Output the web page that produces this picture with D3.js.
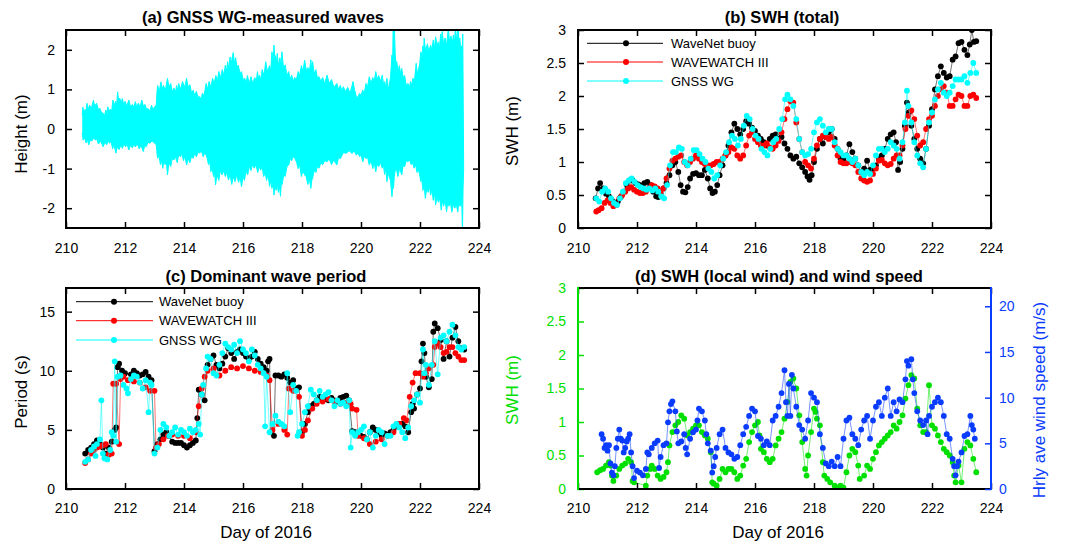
<!DOCTYPE html>
<html><head><meta charset="utf-8">
<script src="https://cdn.jsdelivr.net/npm/d3@7"></script>
<style>body{margin:0;background:#fff} text{font-family:"Liberation Sans",Arial,Helvetica,sans-serif}</style>
</head><body><svg id="chart" width="1079" height="543"></svg>
<script>
// ---------- data ----------
const xTicks = [210,212,214,216,218,220,222,224];
const waveTicks = [-2,-1,0,1,2];
const swhTicks = [0,0.5,1,1.5,2,2.5,3];
const periodTicks = [0,5,10,15];
const windTicks = [0,5,10,15,20];
const seriesNames = ["WaveNet buoy","WAVEWATCH III","GNSS WG"];

// (a) envelope of the GNSS WG wave record [day, height]
const waveUpper = [[210.55,0.35],[210.57,0.55],[210.61,0.4],[210.65,0.5],[210.68,0.42],[210.71,0.65],[210.75,0.5],[210.8,0.6],[210.86,0.52],[210.93,0.73],[210.97,0.58],[211.0,0.62],[211.04,0.65],[211.09,0.5],[211.15,0.52],[211.2,0.42],[211.26,0.4],[211.3,0.32],[211.35,0.48],[211.39,0.38],[211.42,0.56],[211.46,0.44],[211.5,0.5],[211.55,0.45],[211.59,0.73],[211.63,0.58],[211.68,0.7],[211.72,0.62],[211.75,0.94],[211.79,0.68],[211.82,0.78],[211.87,0.66],[211.91,0.77],[211.96,0.6],[212.0,0.7],[212.06,0.58],[212.13,0.73],[212.19,0.56],[212.25,0.62],[212.3,0.55],[212.35,0.69],[212.4,0.55],[212.45,0.65],[212.51,0.56],[212.57,0.73],[212.62,0.58],[212.68,0.62],[212.73,0.5],[212.78,0.52],[212.84,0.45],[212.9,0.6],[212.95,0.48],[213.0,0.56],[213.06,0.6],[213.09,1.0],[213.11,1.1],[213.16,0.95],[213.22,1.19],[213.26,1.0],[213.3,1.1],[213.37,0.98],[213.44,1.28],[213.49,1.05],[213.55,1.15],[213.6,0.95],[213.66,1.03],[213.7,0.9],[213.75,1.1],[213.79,0.95],[213.82,1.15],[213.88,1.0],[213.95,1.2],[214.02,1.05],[214.09,1.28],[214.14,1.05],[214.2,1.12],[214.26,0.9],[214.31,0.98],[214.36,0.85],[214.42,0.95],[214.48,0.8],[214.53,0.82],[214.58,0.75],[214.62,0.9],[214.68,0.85],[214.75,1.15],[214.8,1.0],[214.85,1.2],[214.91,1.05],[214.97,1.28],[215.02,1.15],[215.08,1.35],[215.13,1.2],[215.18,1.45],[215.24,1.3],[215.3,1.5],[215.35,1.35],[215.4,1.61],[215.44,1.45],[215.48,1.7],[215.52,1.5],[215.56,1.82],[215.59,1.6],[215.62,1.75],[215.67,1.93],[215.71,1.65],[215.75,1.8],[215.8,1.55],[215.84,1.61],[215.9,1.4],[215.95,1.45],[216.0,1.25],[216.06,1.28],[216.1,1.15],[216.15,1.35],[216.21,1.15],[216.27,1.32],[216.33,1.15],[216.4,1.3],[216.45,1.2],[216.49,1.45],[216.52,1.25],[216.55,1.36],[216.6,1.25],[216.65,1.5],[216.71,1.35],[216.77,1.7],[216.83,1.45],[216.9,1.6],[216.94,1.45],[216.98,1.95],[217.02,1.7],[217.05,2.12],[217.08,1.75],[217.1,1.85],[217.13,1.65],[217.16,1.91],[217.2,1.6],[217.25,1.8],[217.28,1.6],[217.32,1.95],[217.37,1.55],[217.43,1.62],[217.49,1.35],[217.55,1.45],[217.6,1.25],[217.65,1.36],[217.7,1.2],[217.75,1.3],[217.81,1.25],[217.87,1.45],[217.92,1.35],[217.98,1.6],[218.03,1.45],[218.09,1.74],[218.14,1.5],[218.2,1.55],[218.25,1.45],[218.3,1.75],[218.33,1.5],[218.36,1.7],[218.41,1.4],[218.47,1.5],[218.52,1.3],[218.58,1.32],[218.64,1.2],[218.7,1.3],[218.77,1.15],[218.85,1.36],[218.92,1.15],[219.0,1.25],[219.08,1.05],[219.18,1.15],[219.24,1.0],[219.3,1.1],[219.35,0.95],[219.4,1.07],[219.47,0.95],[219.55,1.05],[219.63,0.9],[219.73,1.2],[219.78,1.0],[219.84,0.82],[219.9,0.8],[219.95,0.9],[220.0,0.85],[220.06,0.98],[220.11,0.9],[220.17,1.15],[220.22,1.05],[220.28,1.32],[220.34,1.15],[220.4,1.3],[220.45,1.2],[220.5,1.45],[220.55,1.25],[220.6,1.35],[220.66,1.2],[220.72,1.36],[220.76,1.15],[220.8,1.2],[220.84,1.05],[220.88,1.28],[220.92,1.0],[220.95,1.1],[221.0,1.3],[221.05,1.87],[221.07,1.6],[221.09,2.6],[221.13,2.6],[221.16,1.9],[221.19,1.6],[221.21,1.7],[221.26,1.45],[221.3,1.6],[221.34,1.4],[221.38,1.53],[221.43,1.3],[221.48,1.35],[221.53,1.1],[221.59,1.15],[221.64,1.05],[221.68,1.2],[221.72,1.1],[221.76,1.28],[221.81,1.2],[221.87,1.66],[221.91,1.4],[221.95,1.5],[221.99,1.65],[222.03,1.95],[222.07,1.8],[222.1,2.1],[222.12,1.9],[222.14,2.29],[222.19,1.95],[222.25,2.15],[222.3,1.95],[222.36,2.12],[222.4,2.0],[222.45,2.25],[222.49,2.05],[222.53,2.33],[222.58,2.1],[222.62,2.2],[222.66,2.05],[222.7,2.4],[222.73,2.2],[222.75,2.46],[222.8,2.15],[222.85,2.3],[222.9,2.1],[222.96,2.55],[223.0,2.2],[223.05,2.35],[223.09,2.15],[223.13,2.37],[223.17,2.2],[223.2,2.55],[223.24,2.25],[223.29,2.55],[223.32,2.2],[223.35,2.3],[223.38,2.0],[223.4,2.1],[223.43,1.9],[223.45,2.4]];
const waveLower = [[210.55,-0.1],[210.58,-0.28],[210.62,-0.2],[210.68,-0.35],[210.72,-0.25],[210.77,-0.4],[210.82,-0.28],[210.88,-0.3],[210.94,-0.22],[210.99,-0.28],[211.04,-0.25],[211.1,-0.38],[211.17,-0.3],[211.26,-0.45],[211.32,-0.33],[211.38,-0.4],[211.43,-0.3],[211.48,-0.36],[211.53,-0.32],[211.58,-0.5],[211.63,-0.4],[211.69,-0.61],[211.74,-0.45],[211.8,-0.52],[211.86,-0.4],[211.91,-0.49],[211.96,-0.38],[212.02,-0.45],[212.07,-0.38],[212.13,-0.53],[212.19,-0.4],[212.25,-0.48],[212.3,-0.38],[212.35,-0.45],[212.42,-0.38],[212.48,-0.5],[212.55,-0.42],[212.62,-0.57],[212.67,-0.42],[212.72,-0.45],[212.78,-0.33],[212.84,-0.36],[212.92,-0.3],[213.0,-0.36],[213.06,-0.4],[213.09,-0.65],[213.11,-0.74],[213.15,-0.65],[213.2,-0.9],[213.24,-0.78],[213.28,-0.99],[213.32,-0.8],[213.36,-0.9],[213.4,-0.8],[213.44,-1.16],[213.49,-0.85],[213.55,-0.95],[213.6,-0.75],[213.66,-0.78],[213.71,-0.7],[213.77,-0.85],[213.82,-0.65],[213.88,-0.7],[213.93,-0.62],[213.98,-0.8],[214.03,-0.7],[214.09,-0.91],[214.14,-0.75],[214.2,-0.85],[214.25,-0.7],[214.31,-0.74],[214.36,-0.62],[214.42,-0.7],[214.48,-0.58],[214.53,-0.61],[214.59,-0.55],[214.65,-0.7],[214.7,-0.6],[214.75,-0.66],[214.79,-0.75],[214.83,-0.9],[214.87,-0.8],[214.91,-1.08],[214.95,-0.95],[215.0,-1.2],[215.03,-1.05],[215.07,-1.41],[215.12,-1.15],[215.18,-1.3],[215.23,-1.05],[215.29,-1.16],[215.34,-1.05],[215.4,-1.2],[215.45,-1.1],[215.51,-1.29],[215.56,-1.15],[215.62,-1.4],[215.67,-1.2],[215.73,-1.33],[215.79,-1.15],[215.85,-1.35],[215.9,-1.2],[215.95,-1.46],[216.0,-1.2],[216.05,-1.3],[216.1,-1.05],[216.16,-1.16],[216.21,-0.95],[216.27,-1.05],[216.32,-0.9],[216.38,-0.99],[216.44,-0.9],[216.5,-1.1],[216.55,-0.95],[216.6,-1.04],[216.65,-0.95],[216.7,-1.2],[216.75,-1.1],[216.8,-1.3],[216.85,-1.15],[216.9,-1.45],[216.94,-1.3],[216.98,-1.5],[217.02,-1.35],[217.05,-1.67],[217.09,-1.4],[217.12,-1.55],[217.16,-1.4],[217.2,-1.6],[217.24,-1.45],[217.27,-1.7],[217.3,-1.35],[217.33,-1.4],[217.38,-1.15],[217.43,-1.2],[217.49,-0.95],[217.55,-0.91],[217.6,-0.75],[217.65,-0.8],[217.7,-0.7],[217.76,-0.74],[217.82,-0.85],[217.87,-1.0],[217.92,-0.9],[217.98,-1.2],[218.03,-1.05],[218.09,-1.16],[218.14,-1.2],[218.2,-1.4],[218.25,-1.25],[218.3,-1.5],[218.33,-1.3],[218.36,-1.25],[218.41,-1.05],[218.47,-1.1],[218.52,-0.95],[218.58,-0.99],[218.64,-0.85],[218.7,-0.9],[218.77,-0.8],[218.85,-0.83],[218.92,-0.75],[219.0,-0.9],[219.08,-0.78],[219.18,-0.91],[219.24,-0.72],[219.3,-0.75],[219.4,-0.6],[219.5,-0.61],[219.6,-0.55],[219.7,-0.62],[219.77,-0.55],[219.84,-0.66],[219.9,-0.6],[219.95,-0.7],[220.0,-0.65],[220.06,-0.83],[220.11,-0.68],[220.17,-0.75],[220.22,-0.7],[220.28,-0.91],[220.34,-0.8],[220.4,-1.0],[220.45,-0.85],[220.5,-1.08],[220.55,-0.88],[220.6,-0.95],[220.66,-0.85],[220.72,-0.99],[220.76,-0.9],[220.8,-1.15],[220.84,-1.0],[220.88,-1.33],[220.92,-1.1],[220.95,-1.2],[221.0,-1.3],[221.05,-1.71],[221.08,-1.4],[221.1,-1.5],[221.13,-1.2],[221.15,-1.08],[221.2,-1.0],[221.25,-1.2],[221.31,-1.0],[221.38,-1.16],[221.43,-0.92],[221.48,-0.95],[221.53,-0.8],[221.59,-0.83],[221.65,-0.78],[221.7,-0.9],[221.75,-0.85],[221.8,-0.99],[221.85,-0.9],[221.9,-1.1],[221.96,-1.05],[222.03,-1.33],[222.06,-1.25],[222.1,-1.55],[222.14,-1.4],[222.18,-1.75],[222.23,-1.5],[222.28,-1.6],[222.32,-1.45],[222.36,-1.67],[222.4,-1.55],[222.45,-1.8],[222.49,-1.6],[222.53,-1.92],[222.58,-1.7],[222.62,-1.85],[222.67,-1.75],[222.72,-2.05],[222.76,-1.8],[222.8,-1.95],[222.85,-1.8],[222.9,-2.09],[222.94,-1.85],[222.98,-1.95],[223.03,-1.85],[223.08,-2.1],[223.13,-1.9],[223.18,-2.0],[223.23,-1.9],[223.28,-2.1],[223.32,-1.85],[223.36,-1.95],[223.4,-1.8],[223.42,-2.0],[223.44,-2.6],[223.46,-1.5],[223.48,-1.0]];

// (b) SWH total [day, m]
const buoySwh = [[210.6,0.45],[210.68,0.6],[210.75,0.68],[210.85,0.6],[210.95,0.52],[211.05,0.48],[211.15,0.42],[211.25,0.38],[211.35,0.4],[211.45,0.47],[211.55,0.55],[211.65,0.65],[211.75,0.72],[211.85,0.72],[211.95,0.68],[212.05,0.66],[212.15,0.64],[212.25,0.68],[212.35,0.7],[212.45,0.65],[212.55,0.55],[212.65,0.48],[212.72,0.47],[212.8,0.52],[212.9,0.6],[213.0,0.68],[213.1,0.8],[213.2,0.95],[213.3,1.0],[213.4,0.85],[213.48,0.65],[213.56,0.55],[213.64,0.54],[213.72,0.62],[213.8,0.75],[213.9,0.82],[214.0,0.83],[214.1,0.8],[214.2,0.8],[214.3,0.88],[214.4,0.75],[214.48,0.6],[214.56,0.53],[214.64,0.55],[214.72,0.65],[214.8,0.8],[214.9,0.95],[215.0,1.1],[215.1,1.25],[215.2,1.45],[215.3,1.58],[215.4,1.5],[215.5,1.42],[215.6,1.5],[215.7,1.62],[215.8,1.58],[215.9,1.52],[216.0,1.47],[216.1,1.4],[216.2,1.35],[216.3,1.3],[216.4,1.25],[216.5,1.35],[216.6,1.4],[216.7,1.42],[216.8,1.35],[216.9,1.38],[217.0,1.28],[217.1,1.2],[217.2,1.1],[217.3,1.05],[217.4,1.08],[217.5,0.98],[217.6,0.92],[217.7,0.85],[217.78,0.78],[217.85,0.73],[217.92,0.8],[218.0,1.0],[218.1,1.2],[218.2,1.35],[218.3,1.28],[218.4,1.38],[218.5,1.45],[218.6,1.5],[218.7,1.35],[218.8,1.2],[218.9,1.05],[219.0,1.03],[219.1,1.1],[219.2,1.27],[219.3,1.15],[219.4,1.05],[219.5,0.95],[219.6,0.85],[219.7,0.9],[219.8,1.02],[219.9,0.88],[220.0,0.9],[220.1,0.95],[220.2,1.05],[220.3,1.1],[220.4,1.2],[220.5,1.35],[220.6,1.42],[220.7,1.45],[220.78,1.3],[220.85,0.88],[220.92,1.0],[221.0,1.2],[221.08,1.55],[221.15,1.9],[221.22,1.75],[221.3,1.55],[221.4,1.35],[221.5,1.2],[221.6,1.05],[221.7,0.98],[221.8,1.2],[221.9,1.55],[222.0,1.8],[222.1,2.1],[222.2,2.3],[222.3,2.45],[222.4,2.35],[222.5,2.28],[222.6,2.3],[222.7,2.55],[222.8,2.6],[222.9,2.8],[223.0,2.82],[223.1,2.7],[223.2,2.62],[223.28,2.78],[223.35,3.0],[223.42,2.82],[223.5,2.83]];
const ww3Swh = [[210.62,0.25],[210.7,0.27],[210.8,0.3],[210.9,0.38],[211.0,0.42],[211.1,0.38],[211.2,0.33],[211.3,0.35],[211.4,0.45],[211.5,0.5],[211.6,0.55],[211.7,0.6],[211.8,0.62],[211.9,0.58],[212.0,0.55],[212.1,0.53],[212.2,0.53],[212.3,0.55],[212.4,0.6],[212.5,0.65],[212.6,0.63],[212.7,0.6],[212.8,0.55],[212.9,0.6],[213.0,0.75],[213.1,0.9],[213.2,1.02],[213.3,1.05],[213.4,1.08],[213.5,1.1],[213.6,1.0],[213.7,0.95],[213.8,1.0],[213.9,1.05],[214.0,1.1],[214.1,1.05],[214.2,1.0],[214.3,0.97],[214.4,0.95],[214.5,0.95],[214.6,0.97],[214.7,1.0],[214.8,1.0],[214.9,1.05],[215.0,1.1],[215.1,1.15],[215.2,1.22],[215.3,1.2],[215.4,1.1],[215.5,1.05],[215.6,1.1],[215.7,1.25],[215.8,1.4],[215.9,1.45],[216.0,1.35],[216.1,1.3],[216.2,1.25],[216.3,1.25],[216.4,1.28],[216.5,1.22],[216.6,1.2],[216.7,1.25],[216.8,1.32],[216.9,1.45],[217.0,1.65],[217.1,1.8],[217.2,1.92],[217.3,1.9],[217.4,1.6],[217.5,1.35],[217.6,1.15],[217.7,1.0],[217.8,0.95],[217.9,0.9],[218.0,1.05],[218.1,1.25],[218.2,1.35],[218.3,1.4],[218.4,1.38],[218.5,1.35],[218.6,1.38],[218.7,1.25],[218.8,1.1],[218.9,1.0],[219.0,0.98],[219.1,0.98],[219.2,1.0],[219.3,0.98],[219.4,0.95],[219.5,0.85],[219.6,0.75],[219.7,0.72],[219.8,0.7],[219.9,0.72],[220.0,0.82],[220.1,0.9],[220.2,1.02],[220.3,1.03],[220.4,0.98],[220.5,0.95],[220.6,0.97],[220.7,1.05],[220.8,1.1],[220.9,1.1],[221.0,1.25],[221.1,1.5],[221.2,1.7],[221.3,1.78],[221.4,1.65],[221.5,1.4],[221.6,1.25],[221.7,1.3],[221.8,1.5],[221.9,1.65],[222.0,1.7],[222.1,1.85],[222.2,2.0],[222.3,2.1],[222.4,2.15],[222.5,2.05],[222.6,1.85],[222.7,1.85],[222.8,1.95],[222.9,2.02],[223.0,2.0],[223.1,1.85],[223.2,1.85],[223.3,2.0],[223.4,2.02],[223.5,1.97]];
const gnssSwh = [[210.62,0.45],[210.72,0.4],[210.82,0.55],[210.92,0.6],[211.02,0.55],[211.12,0.45],[211.22,0.38],[211.32,0.35],[211.42,0.45],[211.52,0.55],[211.62,0.68],[211.72,0.72],[211.82,0.75],[211.92,0.7],[212.02,0.65],[212.12,0.62],[212.22,0.6],[212.32,0.58],[212.42,0.6],[212.52,0.57],[212.62,0.6],[212.72,0.55],[212.82,0.48],[212.92,0.45],[213.02,0.65],[213.12,0.95],[213.22,1.15],[213.32,1.15],[213.42,1.22],[213.52,1.2],[213.62,1.0],[213.72,0.95],[213.82,1.05],[213.92,1.18],[214.02,1.18],[214.12,1.12],[214.22,1.05],[214.32,1.0],[214.42,0.9],[214.52,0.85],[214.62,0.75],[214.72,0.8],[214.82,0.95],[214.92,1.05],[215.02,1.15],[215.12,1.3],[215.22,1.4],[215.32,1.35],[215.42,1.25],[215.52,1.35],[215.62,1.55],[215.72,1.7],[215.82,1.65],[215.92,1.5],[216.02,1.4],[216.12,1.35],[216.22,1.2],[216.32,1.15],[216.42,1.1],[216.52,1.2],[216.62,1.3],[216.72,1.35],[216.82,1.5],[216.92,1.65],[217.02,1.95],[217.1,2.02],[217.2,1.95],[217.3,1.85],[217.4,1.65],[217.5,1.35],[217.6,1.15],[217.7,1.1],[217.8,1.12],[217.9,1.2],[218.0,1.45],[218.1,1.6],[218.2,1.65],[218.3,1.55],[218.4,1.45],[218.5,1.5],[218.6,1.5],[218.7,1.3],[218.8,1.2],[218.9,1.15],[219.0,1.1],[219.1,1.1],[219.2,1.05],[219.3,1.0],[219.4,1.05],[219.5,0.95],[219.6,0.85],[219.7,0.8],[219.8,0.85],[219.9,0.82],[220.0,0.95],[220.1,1.1],[220.2,1.2],[220.3,1.2],[220.4,1.15],[220.5,1.2],[220.6,1.3],[220.7,1.25],[220.8,1.2],[220.9,1.05],[221.0,1.3],[221.08,1.6],[221.15,2.08],[221.2,1.85],[221.3,1.6],[221.4,1.3],[221.5,1.1],[221.6,0.98],[221.7,0.92],[221.8,1.2],[221.9,1.6],[222.0,1.75],[222.1,1.95],[222.2,2.1],[222.3,2.2],[222.4,2.05],[222.5,2.0],[222.6,2.05],[222.7,2.15],[222.8,2.25],[222.9,2.25],[223.0,2.25],[223.1,2.3],[223.2,2.2],[223.3,2.35],[223.4,2.5],[223.5,2.35]];

// (c) dominant wave period [day, s]
const buoyPer = [[210.65,3.0],[210.75,3.3],[210.85,3.5],[210.95,3.8],[211.05,4.1],[211.15,3.8],[211.25,3.5],[211.35,3.0],[211.45,3.5],[211.55,4.0],[211.65,5.0],[211.7,5.2],[211.75,10.3],[211.8,10.6],[211.9,10.0],[212.0,9.8],[212.2,9.7],[212.3,10.0],[212.4,9.8],[212.5,9.6],[212.6,9.7],[212.7,9.9],[212.8,9.5],[212.9,9.2],[213.0,3.2],[213.1,3.8],[213.2,4.2],[213.3,4.6],[213.4,4.8],[213.5,4.5],[213.6,4.0],[213.7,3.9],[213.8,3.9],[213.9,3.9],[214.0,3.7],[214.1,3.5],[214.2,3.7],[214.3,3.9],[214.4,4.1],[214.45,6.0],[214.5,8.4],[214.6,8.0],[214.7,7.5],[214.8,10.5],[214.9,11.0],[215.0,11.3],[215.1,10.5],[215.2,10.2],[215.3,10.6],[215.4,11.2],[215.5,11.9],[215.6,11.5],[215.7,11.0],[215.8,11.6],[215.9,11.8],[216.0,11.5],[216.1,11.2],[216.2,11.0],[216.3,11.2],[216.4,11.6],[216.5,11.0],[216.6,10.6],[216.7,10.3],[216.8,10.0],[216.85,10.8],[216.9,11.0],[216.95,4.8],[217.05,4.5],[217.1,9.6],[217.2,9.6],[217.3,9.5],[217.4,9.7],[217.5,9.4],[217.6,9.0],[217.7,9.2],[217.8,8.5],[217.9,8.6],[218.0,4.8],[218.1,5.5],[218.2,6.5],[218.3,7.0],[218.4,7.2],[218.5,7.5],[218.6,7.8],[218.7,7.7],[218.8,7.6],[218.9,7.5],[219.0,7.7],[219.1,7.5],[219.2,7.4],[219.3,7.7],[219.4,7.8],[219.5,7.9],[219.6,7.5],[219.7,4.9],[219.8,4.8],[219.9,4.6],[220.0,4.5],[220.1,4.4],[220.2,4.2],[220.3,4.8],[220.4,5.2],[220.5,5.0],[220.6,4.8],[220.7,4.5],[220.8,4.7],[220.9,4.6],[221.0,4.8],[221.1,5.0],[221.2,5.3],[221.3,5.5],[221.4,5.5],[221.5,5.3],[221.6,4.8],[221.7,6.5],[221.75,7.2],[221.8,6.8],[221.9,8.0],[222.0,8.5],[222.05,10.8],[222.1,12.3],[222.15,11.5],[222.2,9.5],[222.3,8.6],[222.4,9.3],[222.45,13.3],[222.5,14.0],[222.6,13.6],[222.7,12.6],[222.8,11.0],[222.9,12.5],[223.0,11.2],[223.1,12.8],[223.2,13.7],[223.3,12.5],[223.4,11.9],[223.5,11.8]];
const ww3Per = [[210.65,2.2],[210.75,2.5],[210.85,3.0],[210.95,3.3],[211.05,3.5],[211.15,3.6],[211.25,3.7],[211.35,3.8],[211.45,2.9],[211.55,3.0],[211.6,8.9],[211.7,8.9],[211.8,3.8],[211.85,9.3],[211.95,9.5],[212.1,9.2],[212.3,9.1],[212.5,9.0],[212.7,8.6],[212.85,8.3],[213.0,8.3],[213.05,3.5],[213.15,3.8],[213.3,4.2],[213.45,4.5],[213.6,4.6],[213.8,4.5],[214.0,4.5],[214.2,4.3],[214.4,4.8],[214.5,7.0],[214.6,8.5],[214.7,9.5],[214.8,10.0],[215.0,10.2],[215.2,9.6],[215.4,10.0],[215.6,10.3],[215.8,10.2],[216.0,10.4],[216.2,10.2],[216.4,10.0],[216.6,9.9],[216.8,9.6],[216.9,9.2],[217.0,5.0],[217.2,5.5],[217.4,5.0],[217.5,4.6],[217.55,8.5],[217.7,8.3],[217.9,7.8],[218.0,4.5],[218.1,5.0],[218.2,5.8],[218.35,6.8],[218.5,7.2],[218.7,7.4],[218.9,7.6],[219.1,7.4],[219.3,7.2],[219.5,7.3],[219.65,7.2],[219.7,6.8],[219.85,6.7],[219.9,4.5],[220.1,4.3],[220.3,3.8],[220.5,4.0],[220.7,4.2],[220.9,4.5],[221.1,4.8],[221.3,5.5],[221.45,6.0],[221.55,5.8],[221.65,7.8],[221.75,9.0],[221.85,9.8],[222.0,9.8],[222.1,9.5],[222.2,9.8],[222.3,10.2],[222.45,10.5],[222.5,12.0],[222.6,12.3],[222.7,12.0],[222.8,11.5],[222.9,11.6],[223.0,12.0],[223.1,12.0],[223.2,11.5],[223.3,11.2],[223.4,10.9],[223.5,10.9]];
const gnssPer = [[210.65,2.3],[210.75,2.5],[210.85,3.3],[210.95,3.6],[211.0,2.8],[211.05,3.8],[211.15,4.2],[211.2,7.5],[211.25,3.0],[211.3,2.6],[211.4,2.5],[211.5,3.3],[211.55,4.8],[211.6,4.5],[211.65,10.8],[211.7,4.0],[211.75,9.5],[211.85,9.6],[211.95,8.8],[212.05,8.5],[212.1,8.1],[212.2,9.3],[212.3,9.6],[212.4,9.5],[212.5,9.0],[212.6,8.5],[212.7,9.2],[212.8,6.5],[212.85,9.0],[212.9,8.8],[213.0,3.0],[213.1,3.5],[213.2,5.0],[213.3,5.5],[213.4,5.2],[213.5,4.5],[213.6,4.8],[213.7,5.2],[213.8,4.6],[213.9,5.0],[214.0,4.8],[214.1,4.5],[214.2,5.1],[214.3,4.8],[214.4,5.0],[214.5,5.5],[214.55,4.6],[214.6,8.0],[214.65,8.8],[214.75,10.2],[214.8,11.2],[214.9,11.0],[215.0,9.8],[215.1,9.6],[215.2,10.5],[215.3,11.5],[215.4,12.3],[215.5,12.0],[215.6,11.8],[215.7,12.2],[215.8,11.5],[215.9,12.5],[216.0,11.8],[216.1,11.5],[216.2,10.8],[216.3,11.8],[216.4,11.3],[216.5,10.5],[216.6,10.2],[216.7,9.8],[216.75,5.3],[216.8,9.5],[216.9,4.8],[217.0,5.5],[217.1,6.2],[217.2,5.7],[217.3,5.5],[217.4,5.3],[217.5,9.8],[217.6,6.5],[217.7,8.8],[217.8,8.3],[217.85,4.5],[217.9,4.8],[218.0,5.5],[218.1,6.5],[218.2,7.0],[218.3,8.4],[218.4,8.0],[218.5,7.5],[218.6,8.3],[218.7,7.8],[218.8,8.0],[218.9,8.2],[219.0,7.5],[219.1,7.0],[219.2,7.5],[219.3,7.2],[219.4,7.3],[219.5,7.0],[219.6,7.5],[219.65,3.5],[219.7,4.8],[219.8,4.5],[219.9,4.8],[220.0,5.0],[220.1,5.3],[220.2,4.2],[220.3,4.8],[220.4,3.5],[220.5,4.5],[220.6,5.0],[220.7,4.8],[220.8,3.8],[220.9,4.5],[221.0,4.5],[221.1,5.3],[221.2,5.5],[221.3,5.2],[221.4,4.8],[221.5,4.3],[221.6,5.2],[221.7,7.0],[221.8,7.5],[221.9,8.0],[222.0,7.3],[222.1,11.8],[222.15,9.8],[222.2,10.5],[222.3,8.8],[222.4,10.5],[222.5,12.5],[222.6,9.7],[222.7,12.8],[222.8,13.0],[222.9,12.5],[223.0,13.3],[223.1,13.9],[223.2,13.0],[223.3,12.0],[223.4,11.8],[223.5,12.0]];

// (d) SWH of local wind sea [day, m] and hourly mean wind speed [day, m/s]
const localSwh = [[210.65,0.25],[210.75,0.28],[210.85,0.3],[210.95,0.35],[211.05,0.4],[211.1,0.35],[211.15,0.2],[211.2,0.12],[211.3,0.2],[211.4,0.3],[211.5,0.35],[211.6,0.38],[211.7,0.45],[211.8,0.4],[211.85,0.12],[211.9,0.1],[212.3,0.05],[212.35,0.2],[212.45,0.3],[212.5,0.35],[212.6,0.3],[212.7,0.2],[212.8,0.15],[212.9,0.18],[213.0,0.25],[213.05,0.4],[213.1,0.65],[213.2,0.85],[213.3,0.95],[213.4,1.0],[213.5,1.1],[213.6,1.05],[213.7,0.8],[213.8,0.85],[213.9,0.9],[214.0,0.95],[214.1,0.95],[214.2,0.85],[214.3,0.8],[214.4,0.75],[214.5,0.55],[214.55,0.1],[214.6,0.08],[214.7,0.05],[214.8,0.15],[214.9,0.3],[215.0,0.25],[215.1,0.3],[215.2,0.3],[215.3,0.25],[215.4,0.15],[215.5,0.2],[215.6,0.35],[215.7,0.45],[215.8,0.7],[215.9,0.85],[216.0,0.95],[216.1,1.0],[216.15,0.8],[216.2,0.6],[216.3,0.55],[216.4,0.45],[216.5,0.4],[216.6,0.45],[216.7,0.65],[216.8,0.75],[216.9,0.85],[217.0,1.05],[217.1,1.3],[217.2,1.6],[217.3,1.65],[217.4,1.5],[217.5,1.1],[217.6,0.7],[217.7,0.3],[217.75,0.2],[217.8,0.5],[217.9,0.85],[218.0,1.2],[218.05,1.15],[218.1,1.05],[218.2,0.95],[218.3,0.4],[218.35,0.2],[218.45,0.15],[218.55,0.1],[218.7,0.05],[218.8,0.02],[218.9,0.05],[219.0,0.02],[219.1,0.25],[219.2,0.5],[219.3,0.6],[219.4,0.55],[219.5,0.35],[219.55,0.15],[219.7,0.2],[219.8,0.35],[219.9,0.3],[220.0,0.45],[220.1,0.55],[220.2,0.65],[220.3,0.7],[220.4,0.75],[220.5,0.8],[220.6,0.85],[220.7,0.95],[220.8,0.9],[220.9,1.0],[221.0,1.1],[221.1,1.35],[221.2,1.55],[221.3,1.7],[221.4,1.65],[221.5,1.2],[221.6,0.95],[221.7,0.85],[221.8,0.85],[221.9,1.55],[222.0,0.95],[222.1,0.9],[222.2,0.8],[222.3,0.7],[222.4,0.6],[222.5,0.55],[222.6,0.5],[222.7,0.4],[222.75,0.2],[222.8,0.1],[222.9,0.35],[223.0,0.1],[223.1,0.6],[223.2,0.7],[223.3,0.65],[223.4,0.45],[223.5,0.25]];
const windSpeed = [[210.8,6.0],[210.85,5.5],[210.9,4.5],[210.95,4.8],[211.0,4.2],[211.05,4.8],[211.1,2.8],[211.15,1.8],[211.2,1.5],[211.25,2.5],[211.3,4.5],[211.35,5.5],[211.4,6.5],[211.45,5.5],[211.5,5.3],[211.55,4.0],[211.6,4.5],[211.65,5.2],[211.7,5.5],[211.75,6.0],[211.8,4.0],[211.85,2.5],[211.9,1.2],[212.0,2.0],[212.1,1.8],[212.2,1.5],[212.3,2.2],[212.35,4.0],[212.4,3.8],[212.5,4.5],[212.6,5.0],[212.7,5.3],[212.75,2.3],[212.8,3.5],[212.9,4.8],[213.0,5.0],[213.05,7.3],[213.1,8.5],[213.15,9.3],[213.2,9.6],[213.3,8.5],[213.35,6.3],[213.4,5.0],[213.5,5.2],[213.6,6.0],[213.65,4.5],[213.7,3.8],[213.8,5.5],[213.9,6.2],[214.0,6.5],[214.05,7.5],[214.1,8.8],[214.2,8.5],[214.3,7.5],[214.35,6.0],[214.4,5.0],[214.5,4.2],[214.55,1.8],[214.6,2.5],[214.65,3.5],[214.7,4.5],[214.8,6.0],[214.9,6.5],[215.0,4.5],[215.1,4.0],[215.2,3.8],[215.3,3.3],[215.4,3.5],[215.5,4.8],[215.6,6.0],[215.7,6.8],[215.8,8.0],[215.9,8.8],[216.0,8.5],[216.1,5.8],[216.2,5.5],[216.3,4.8],[216.4,5.2],[216.5,4.8],[216.6,7.5],[216.7,8.0],[216.8,9.0],[216.9,10.5],[217.0,13.0],[217.05,9.5],[217.1,8.0],[217.15,11.5],[217.2,8.0],[217.25,12.5],[217.3,11.0],[217.4,9.0],[217.5,7.0],[217.6,6.5],[217.7,5.5],[217.8,7.5],[217.9,10.5],[218.0,10.0],[218.1,9.5],[218.2,6.0],[218.3,4.5],[218.4,2.8],[218.5,2.5],[218.6,3.0],[218.7,2.5],[218.8,3.5],[218.9,2.5],[219.0,5.5],[219.1,7.5],[219.2,7.8],[219.3,6.0],[219.4,5.5],[219.5,4.8],[219.6,6.5],[219.7,7.5],[219.8,8.0],[219.9,5.5],[220.0,7.5],[220.1,9.0],[220.2,9.5],[220.3,8.0],[220.4,10.0],[220.5,11.0],[220.6,8.0],[220.7,9.5],[220.8,8.5],[220.9,9.8],[221.0,9.5],[221.1,12.0],[221.15,14.0],[221.2,13.5],[221.3,14.2],[221.35,12.0],[221.4,10.5],[221.5,8.5],[221.6,7.5],[221.7,7.0],[221.8,7.5],[221.85,6.0],[221.9,8.0],[222.0,9.0],[222.1,9.5],[222.2,10.0],[222.3,9.5],[222.4,8.0],[222.5,6.0],[222.6,5.5],[222.7,3.3],[222.75,2.5],[222.8,1.5],[222.85,2.5],[222.9,3.0],[223.0,4.0],[223.1,5.8],[223.2,6.0],[223.3,8.0],[223.35,7.0],[223.4,6.5],[223.45,5.5]];

// ---------- drawing ----------
const COL = {black:"#000000", red:"#ff0000", cyan:"#00ffff", green:"#00e000", blue:"#0a3cff"};
const svg = d3.select("#chart");
const FONT = '"Liberation Sans",Arial,Helvetica,sans-serif';

const boxes = {
  a:{x0:66,x1:479,y0:30,y1:228},
  b:{x0:578,x1:991,y0:30,y1:228},
  c:{x0:66,x1:479,y0:288,y1:489},
  d:{x0:578,x1:991,y0:288,y1:489}
};

function styleAxis(g, color, labels){
  g.select(".domain").remove();
  g.selectAll(".tick line").attr("stroke", color).attr("stroke-width",1.5);
  g.selectAll(".tick text").attr("fill", color).attr("font-size",14).attr("font-family",FONT);
  if(!labels) g.selectAll(".tick text").remove();
}

function panel(key, yDomain, yTicks, opts){
  opts = opts||{};
  const b = boxes[key];
  const x = d3.scaleLinear().domain([210,224]).range([b.x0,b.x1]);
  const y = d3.scaleLinear().domain(yDomain).range([b.y1,b.y0]);
  const fmt = d => String(d);
  const clipId = "clip-"+key;
  svg.append("clipPath").attr("id",clipId).append("rect")
    .attr("x",b.x0).attr("y",b.y0).attr("width",b.x1-b.x0).attr("height",b.y1-b.y0);
  const plot = svg.append("g").attr("clip-path",`url(#${clipId})`);
  const axes = svg.append("g");
  axes.append("g").attr("transform",`translate(0,${b.y1})`)
    .call(d3.axisBottom(x).tickValues(xTicks).tickFormat(fmt).tickSize(-6).tickPadding(opts.xpad||15))
    .call(g=>styleAxis(g,"#000",true));
  axes.append("g").attr("transform",`translate(0,${b.y0})`)
    .call(d3.axisTop(x).tickValues(xTicks).tickSize(-6))
    .call(g=>styleAxis(g,"#000",false));
  const lc = opts.leftColor||"#000";
  axes.append("g").attr("transform",`translate(${b.x0},0)`)
    .call(d3.axisLeft(y).tickValues(yTicks).tickFormat(fmt).tickSize(-6).tickPadding(opts.ypad||11))
    .call(g=>styleAxis(g,lc,true));
  if(!opts.y2){
    axes.append("g").attr("transform",`translate(${b.x1},0)`)
      .call(d3.axisRight(y).tickValues(yTicks).tickSize(-6))
      .call(g=>styleAxis(g,"#000",false));
  }
  axes.append("line").attr("x1",b.x0).attr("x2",b.x1).attr("y1",b.y0).attr("y2",b.y0).attr("stroke","#000").attr("stroke-width",2);
  axes.append("line").attr("x1",b.x0).attr("x2",b.x1).attr("y1",b.y1).attr("y2",b.y1).attr("stroke","#000").attr("stroke-width",2);
  axes.append("line").attr("x1",b.x0).attr("x2",b.x0).attr("y1",b.y0-1).attr("y2",b.y1+1).attr("stroke",lc).attr("stroke-width",2);
  axes.append("line").attr("x1",b.x1).attr("x2",b.x1).attr("y1",b.y0-1).attr("y2",b.y1+1).attr("stroke",opts.rightColor||"#000").attr("stroke-width",2);
  return {x,y,plot,axes,b};
}

function series(p, yScale, data, color, r){
  const line = d3.line().x(d=>p.x(d[0])).y(d=>yScale(d[1]));
  p.plot.append("path").datum(data).attr("d",line)
    .attr("fill","none").attr("stroke",color).attr("stroke-width",1).attr("stroke-opacity",0.55);
  p.plot.append("g").selectAll("circle").data(data).join("circle")
    .attr("cx",d=>p.x(d[0])).attr("cy",d=>yScale(d[1])).attr("r",r||2.9).attr("fill",color);
}

function legend(x0,x1,xd,xt,ys,colors){
  seriesNames.forEach((n,i)=>{
    const yy = ys[i];
    svg.append("line").attr("x1",x0).attr("x2",x1).attr("y1",yy).attr("y2",yy).attr("stroke",colors[i]).attr("stroke-width",1);
    svg.append("circle").attr("cx",xd).attr("cy",yy).attr("r",3).attr("fill",colors[i]);
    svg.append("text").attr("x",xt).attr("y",yy+4.6).attr("font-size",13).attr("fill","#000").text(n);
  });
}

function title(txt,cx,yb){
  svg.append("text").attr("x",cx).attr("y",yb).attr("text-anchor","middle")
    .attr("font-size",16.5).attr("font-weight","bold").text(txt);
}
function ylabel(txt,xb,cy,color){
  svg.append("text").attr("transform",`translate(${xb},${cy}) rotate(-90)`)
    .attr("text-anchor","middle").attr("font-size",17).attr("fill",color||"#000").text(txt);
}
function xlabel(txt,cx,yb){
  svg.append("text").attr("x",cx).attr("y",yb).attr("text-anchor","middle").attr("font-size",17).text(txt);
}

// (a)
const pa = panel("a",[-2.5,2.5],waveTicks);
const poly = waveUpper.concat(waveLower.slice().reverse());
pa.plot.append("path").datum(poly)
  .attr("d", d3.line().x(d=>pa.x(d[0])).y(d=>pa.y(d[1])))
  .attr("fill",COL.cyan).attr("stroke",COL.cyan).attr("stroke-width",1).attr("stroke-linejoin","miter");
title("(a) GNSS WG-measured waves",263,22.5);
ylabel("Height (m)",27,134);

// (b)
const pb = panel("b",[0,3],swhTicks,{ypad:12});
series(pb,pb.y,buoySwh,COL.black);
series(pb,pb.y,ww3Swh,COL.red);
series(pb,pb.y,gnssSwh,COL.cyan);
legend(587,663,626,671,[43.3,62,81],[COL.black,COL.red,COL.cyan]);
title("(b) SWH (total)",782,22.5);
ylabel("SWH (m)",518,131);

// (c)
const pc = panel("c",[0,17],periodTicks,{xpad:14});
series(pc,pc.y,buoyPer,COL.black);
series(pc,pc.y,ww3Per,COL.red);
series(pc,pc.y,gnssPer,COL.cyan);
legend(76,153,114,159,[301.7,320.7,340],[COL.black,COL.red,COL.cyan]);
title("(c) Dominant wave period",266,281.5);
ylabel("Period (s)",27,392);
xlabel("Day of 2016",266,538);

// (d)
const pd = panel("d",[0,3],swhTicks,{xpad:14,ypad:12,leftColor:COL.green,rightColor:COL.blue,y2:true});
const yWind = d3.scaleLinear().domain([0,22]).range([pd.b.y1,pd.b.y0]);
pd.axes.append("g").attr("transform",`translate(${pd.b.x1},0)`)
  .call(d3.axisRight(yWind).tickValues(windTicks).tickFormat(d=>String(d)).tickSize(-6).tickPadding(8))
  .call(g=>styleAxis(g,COL.blue,true));
series(pd,pd.y,localSwh,COL.green);
series(pd,yWind,windSpeed,COL.blue);
title("(d) SWH (local wind) and wind speed",779,281.5);
ylabel("SWH (m)",518,390,COL.green);
ylabel("Hrly ave wind speed (m/s)",1045,400,COL.blue);
xlabel("Day of 2016",778,538);
</script></body></html>
